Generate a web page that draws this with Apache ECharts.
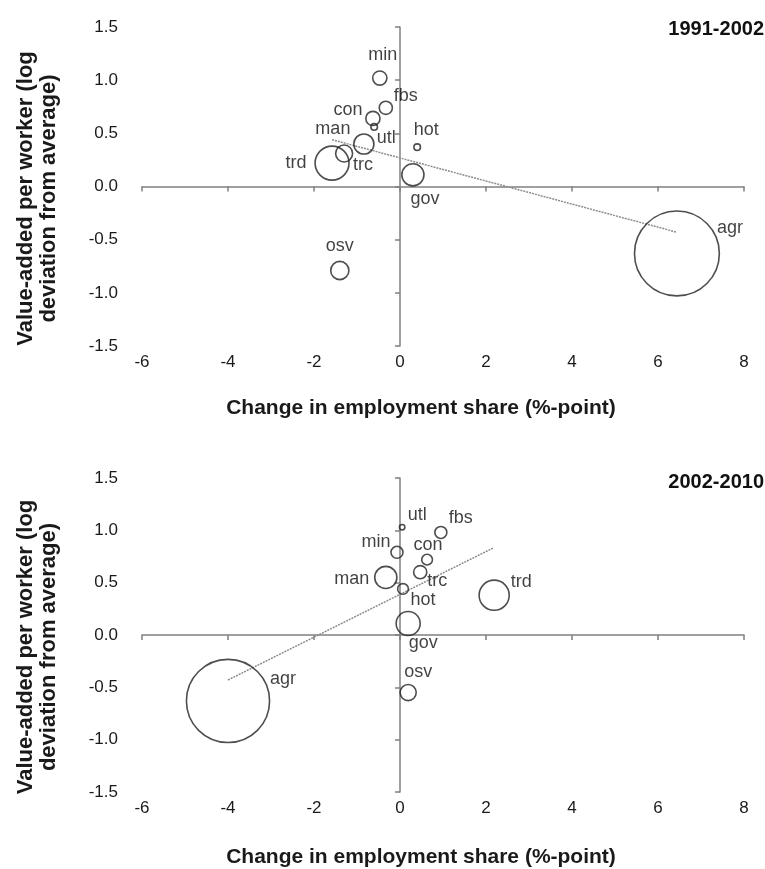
<!DOCTYPE html>
<html>
<head>
<meta charset="utf-8">
<title>Value-added per worker vs change in employment share</title>
<script src="https://cdn.jsdelivr.net/npm/echarts@6/dist/echarts.min.js"></script>
<style>
  html, body { margin: 0; padding: 0; background: #fff; }
  #chart { width: 765px; height: 869px; }
</style>
</head>
<body>
<div id="chart"></div>
<script>
// sectors, same order in both periods
const sectors = ["agr", "min", "man", "utl", "con", "trd", "hot", "trc", "fbs", "gov", "osv"];

// 1991-2002
const dShare1 = [6.44, -0.47, -0.84, -0.60, -0.63, -1.58, 0.40, -1.30, -0.33, 0.30, -1.40];
const vaDev1 = [-0.63, 1.02, 0.40, 0.56, 0.64, 0.22, 0.37, 0.31, 0.74, 0.11, -0.79];
const empShare1 = [50, 1.4, 2.8, 0.3, 1.4, 8.0, 0.3, 2.0, 1.2, 3.4, 2.3];
const trendX1 = [-1.58, 6.44];
const trendY1 = [0.44, -0.43];

// 2002-2010
const dShare2 = [-4.0, -0.07, -0.33, 0.05, 0.63, 2.19, 0.07, 0.47, 0.95, 0.19, 0.19];
const vaDev2 = [-0.63, 0.79, 0.55, 1.03, 0.72, 0.38, 0.44, 0.60, 0.98, 0.11, -0.55];
const empShare2 = [48, 1.0, 3.4, 0.2, 0.8, 6.3, 0.8, 1.2, 1.0, 4.0, 1.8];
const trendX2 = [-4.0, 2.16];
const trendY2 = [-0.43, 0.83];

const xTicks = [-6, -4, -2, 0, 2, 4, 6, 8];
const yTicks = [-1.5, -1.0, -0.5, 0.0, 0.5, 1.0, 1.5];

// where each sector label sits relative to its bubble (px)
const labelOffset1 = {
  agr: [53, -25], min: [3, -23], man: [-31, -15], utl: [12, 11], con: [-25, -8],
  trd: [-36, 0], hot: [9, -17], trc: [19, 11], fbs: [20, -12], gov: [12, 24], osv: [0, -24]
};
const labelOffset2 = {
  agr: [55, -22], min: [-21, -10], man: [-34, 2], utl: [15, -12], con: [1, -15],
  trd: [27, -13], hot: [20, 11], trc: [17, 9], fbs: [20, -14], gov: [15, 20], osv: [10, -21]
};

const FONT = "Liberation Sans, Arial, sans-serif";
const axisGray = "#808080";

function bubbles(xs, ys, sizes, offsets) {
  return sectors.map((s, i) => ({
    name: s,
    value: [xs[i], ys[i], sizes[i]],
    label: { offset: offsets[s] }
  }));
}

function labelAxesX(g, gap) {
  return {
    gridIndex: g, type: "value", position: "bottom",
    min: xTicks[0], max: xTicks[xTicks.length - 1], interval: 2,
    axisLine: { show: false, onZero: false },
    axisTick: { show: false },
    splitLine: { show: false },
    axisLabel: { margin: 8, fontSize: 17, color: "#1a1a1a", fontFamily: FONT },
    name: "Change in employment share (%-point)",
    nameLocation: "middle", nameGap: gap,
    nameTextStyle: { fontSize: 21, fontWeight: "bold", color: "#1a1a1a", fontFamily: FONT,
      padding: [0, 44, 0, 0] }
  };
}
function zeroAxisX(g, yIdx) {
  return {
    gridIndex: g, type: "value", position: "bottom",
    min: xTicks[0], max: xTicks[xTicks.length - 1], interval: 2,
    axisLine: { show: true, onZero: true, onZeroAxisIndex: yIdx, lineStyle: { color: axisGray, width: 1.5 } },
    axisTick: { show: true, length: 5, lineStyle: { color: axisGray, width: 1.5 } },
    axisLabel: { show: false },
    splitLine: { show: false }
  };
}
function labelAxesY(g) {
  return {
    gridIndex: g, type: "value", position: "left",
    min: yTicks[0], max: yTicks[yTicks.length - 1], interval: 0.5,
    axisLine: { show: false, onZero: false },
    axisTick: { show: false },
    splitLine: { show: false },
    axisLabel: { margin: 24, fontSize: 17, color: "#1a1a1a", fontFamily: FONT,
      formatter: v => v.toFixed(1) },
    name: "Value-added per worker (log\ndeviation from average)",
    nameLocation: "middle", nameGap: 82, nameRotate: 90,
    nameTextStyle: { fontSize: 22, fontWeight: "bold", color: "#1a1a1a", fontFamily: FONT,
      lineHeight: 23, padding: [0, 24, 0, 0] }
  };
}
function zeroAxisY(g, xIdx) {
  return {
    gridIndex: g, type: "value", position: "left",
    min: yTicks[0], max: yTicks[yTicks.length - 1], interval: 0.5,
    axisLine: { show: true, onZero: true, onZeroAxisIndex: xIdx, lineStyle: { color: axisGray, width: 1.5 } },
    axisTick: { show: true, length: 5, lineStyle: { color: axisGray, width: 1.5 } },
    axisLabel: { show: false },
    splitLine: { show: false }
  };
}

function bubbleSeries(xi, yi, data) {
  return {
    type: "scatter", xAxisIndex: xi, yAxisIndex: yi,
    data: data,
    symbol: "circle",
    symbolSize: v => Math.sqrt(v[2]) * 12,
    itemStyle: { color: "rgba(255,255,255,0)", borderColor: "#222", borderWidth: 1.6 },
    label: {
      show: true, position: "inside", formatter: "{b}",
      fontSize: 18, color: "#111", fontFamily: FONT
    },
    emphasis: { disabled: true },
    z: 3
  };
}
function trendSeries(xi, yi, xs, ys) {
  return {
    type: "line", xAxisIndex: xi, yAxisIndex: yi,
    data: xs.map((x, i) => [x, ys[i]]),
    symbol: "none",
    lineStyle: { color: "#8c8c8c", width: 1.5, type: [2, 1] },
    z: 2
  };
}

let myChart = echarts.init(document.getElementById("chart"));
let option = {
  animation: false,
  title: [
    { text: "1991-2002", right: 1, top: 19, padding: 0,
      textStyle: { fontSize: 20, fontWeight: "bold", color: "#111", fontFamily: FONT } },
    { text: "2002-2010", right: 1, top: 472, padding: 0,
      textStyle: { fontSize: 20, fontWeight: "bold", color: "#111", fontFamily: FONT } }
  ],
  grid: [
    { left: 142, right: 21, top: 27, height: 319 },
    { left: 142, right: 21, top: 478, height: 314 }
  ],
  xAxis: [labelAxesX(0, 52), zeroAxisX(0, 0), labelAxesX(1, 55), zeroAxisX(1, 2)],
  yAxis: [labelAxesY(0), zeroAxisY(0, 0), labelAxesY(1), zeroAxisY(1, 2)],
  series: [
    trendSeries(0, 0, trendX1, trendY1),
    bubbleSeries(0, 0, bubbles(dShare1, vaDev1, empShare1, labelOffset1)),
    trendSeries(2, 2, trendX2, trendY2),
    bubbleSeries(2, 2, bubbles(dShare2, vaDev2, empShare2, labelOffset2))
  ]
};
myChart.setOption(option);
</script>
</body>
</html>
